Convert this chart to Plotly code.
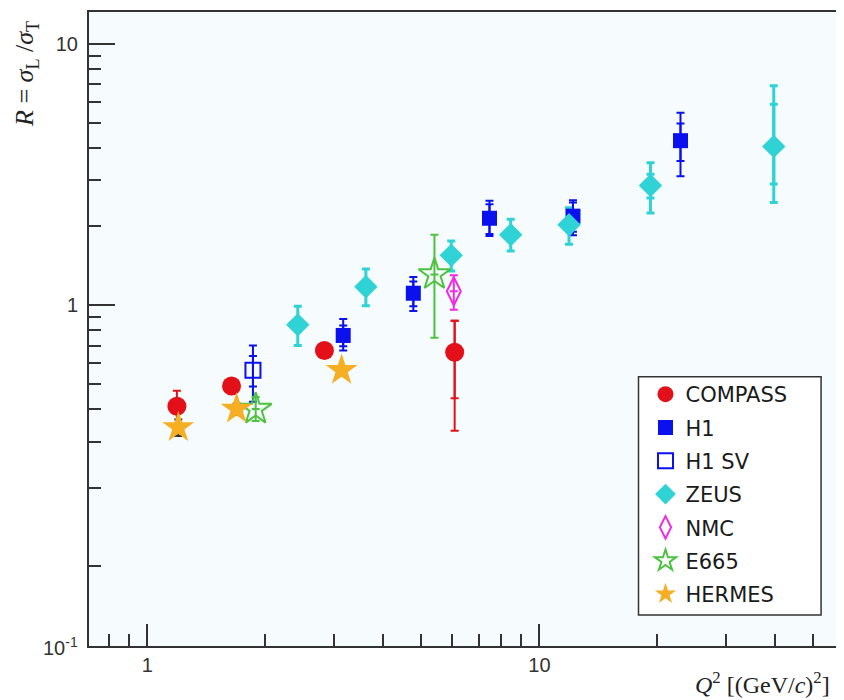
import plotly.graph_objects as go

# ---------------- data ----------------
compass_x = [1.19, 1.64, 2.83, 6.08]
compass_y = [0.41, 0.49, 0.67, 0.66]
compass_tot_p = [0.06, 0.02, 0.02, 0.21]
compass_tot_m = [0.06, 0.02, 0.02, 0.33]
compass_stat_p = [0.0, 0.0, 0.0, 0.21]
compass_stat_m = [0.0, 0.0, 0.0, 0.22]

h1_x = [3.16, 4.77, 7.46, 12.18, 22.9]
h1_y = [0.765, 1.11, 2.15, 2.19, 4.26]
h1_tot_p = [0.12, 0.17, 0.36, 0.33, 1.19]
h1_tot_m = [0.095, 0.16, 0.31, 0.34, 1.15]
h1_stat_p = [0.07, 0.12, 0.28, 0.28, 0.70]
h1_stat_m = [0.07, 0.12, 0.28, 0.28, 0.70]

h1sv_x = [1.86]
h1sv_y = [0.563]
h1sv_tot = [0.137]
h1sv_stat = [0.075]

zeus_x = [2.42, 3.61, 5.96, 8.45, 11.9, 19.2, 39.6]
zeus_y = [0.84, 1.175, 1.55, 1.86, 2.03, 2.87, 4.05]
zeus_tot_p = [0.15, 0.20, 0.21, 0.27, 0.33, 0.64, 2.86]
zeus_tot_m = [0.14, 0.18, 0.20, 0.25, 0.32, 0.62, 1.58]
zeus_stat_p = [0.0, 0.0, 0.0, 0.0, 0.0, 0.30, 1.82]
zeus_stat_m = [0.0, 0.0, 0.0, 0.0, 0.0, 0.30, 1.14]

nmc_x = [6.05]
nmc_y = [1.13]
nmc_tot = [0.17]

e665_x = [1.89, 5.40]
e665_y = [0.40, 1.31]
e665_tot_p = [0.045, 0.55]
e665_tot_m = [0.04, 0.56]

hermes_x = [1.20, 1.69, 3.13]
hermes_y = [0.34, 0.40, 0.563]
hermes_tot = [0.025, 0.02, 0.02]

y_minor = [0.1, 0.2, 0.3, 0.4, 0.5, 0.6, 0.7, 0.8, 0.9, 2, 3, 4, 5, 6, 7, 8, 9]
x_minor = [0.8, 0.9, 2, 3, 4, 5, 6, 7, 8, 9, 20, 30, 40, 50]

RED = "#e3101a"
BLUE = "#0a10ee"
CYAN = "#2fd3d6"
MAG = "#f22ae0"
GREEN = "#4cc23f"
ORANGE = "#f6ae23"

fig = go.Figure()


def err_trace(x, y, plus, minus, color, group, thick=2):
    fig.add_trace(go.Scatter(
        x=x, y=y, mode="markers",
        marker=dict(size=1, color="rgba(0,0,0,0)"),
        error_y=dict(type="data", symmetric=False, array=plus, arrayminus=minus,
                     color=color, thickness=thick, width=4),
        showlegend=False, legendgroup=group, hoverinfo="skip"))


def main_trace(x, y, plus, minus, color, group, name, marker, thick=2):
    fig.add_trace(go.Scatter(
        x=x, y=y, mode="markers", name=name, legendgroup=group,
        marker=marker,
        error_y=dict(type="data", symmetric=False, array=plus, arrayminus=minus,
                     color=color, thickness=thick, width=4)))


# total-error bars first (behind markers)
err_trace(compass_x, compass_y, compass_tot_p, compass_tot_m, RED, "g1")
err_trace(h1_x, h1_y, h1_tot_p, h1_tot_m, BLUE, "g2")
err_trace(h1sv_x, h1sv_y, h1sv_tot, h1sv_tot, BLUE, "g3")
err_trace(zeus_x, zeus_y, zeus_tot_p, zeus_tot_m, CYAN, "g4", thick=3)
err_trace(nmc_x, nmc_y, nmc_tot, nmc_tot, MAG, "g5")
err_trace(e665_x, e665_y, e665_tot_p, e665_tot_m, GREEN, "g6")
err_trace(hermes_x, hermes_y, hermes_tot, hermes_tot, "#333333", "g7")

main_trace(compass_x, compass_y, compass_stat_p, compass_stat_m, RED, "g1", "COMPASS",
           dict(symbol="circle", size=19, color=RED))
main_trace(h1_x, h1_y, h1_stat_p, h1_stat_m, BLUE, "g2", "H1",
           dict(symbol="square", size=15, color=BLUE))
main_trace(h1sv_x, h1sv_y, h1sv_stat, h1sv_stat, BLUE, "g3", "H1 SV",
           dict(symbol="square-open", size=15, color=BLUE, line=dict(width=2)))
main_trace(zeus_x, zeus_y, zeus_stat_p, zeus_stat_m, CYAN, "g4", "ZEUS",
           dict(symbol="diamond", size=18, color=CYAN), thick=3)
main_trace(nmc_x, nmc_y, [0], [0], MAG, "g5", "NMC",
           dict(symbol="diamond-tall-open", size=20, color=MAG, line=dict(width=2)))
main_trace(e665_x, e665_y, [0, 0], [0, 0], GREEN, "g6", "E665",
           dict(symbol="star-open", size=24, color=GREEN, line=dict(width=2)))
main_trace(hermes_x, hermes_y, [0, 0, 0], [0, 0, 0], ORANGE, "g7", "HERMES",
           dict(symbol="star", size=24, color=ORANGE))

axis_font = dict(family="Liberation Sans, Arial, sans-serif", size=20, color="#333333")

fig.update_xaxes(
    type="log", range=[-0.1486, 1.7666],
    tickvals=[1, 10], ticktext=["1", "10"],
    ticks="inside", ticklen=22, tickwidth=2, tickcolor="#333333",
    minor=dict(tickvals=x_minor, ticks="inside", ticklen=12, tickwidth=2, tickcolor="#333333",
               showgrid=False),
    showline=True, linecolor="#333333", linewidth=2, mirror=True,
    showgrid=False, zeroline=False, tickfont=axis_font)

fig.update_yaxes(
    type="log", range=[-1.3053, 1.1221],
    tickvals=[1, 10], ticktext=["1", "10"],
    ticks="inside", ticklen=26, tickwidth=2, tickcolor="#333333",
    minor=dict(tickvals=y_minor, ticks="inside", ticklen=12, tickwidth=2, tickcolor="#333333",
               showgrid=False),
    showline=True, linecolor="#333333", linewidth=2, mirror=True,
    ticklabelstandoff=5,
    showgrid=False, zeroline=False, tickfont=axis_font)

serif = "Liberation Serif, Times New Roman, serif"

fig.update_layout(
    width=836, height=692,
    margin=dict(l=81, r=2, t=2, b=54),
    paper_bgcolor="white",
    plot_bgcolor="#f6fbfd",
    showlegend=True,
    legend=dict(
        x=0.741, y=0.429, xanchor="left", yanchor="top",
        bgcolor="rgba(0,0,0,0)", borderwidth=0,
        font=dict(family="DejaVu Sans, Liberation Sans, sans-serif", size=21, color="#1a1a1a"),
        tracegroupgap=3, itemsizing="trace"),
    shapes=[
        dict(type="rect", xref="paper", yref="paper",
             x0=0.7317, x1=0.9748, y0=0.0487, y1=0.4245,
             fillcolor="white", line=dict(color="#333333", width=1.5), layer="above"),
    ],
    annotations=[
        dict(text="<i>R</i> = <i>σ</i><sub>L</sub> /<i>σ</i><sub>T</sub>",
             xref="paper", yref="paper", x=-0.0837, y=0.9025,
             xanchor="center", yanchor="middle", textangle=-90, showarrow=False,
             font=dict(family=serif, size=26, color="#222222")),
        dict(text="<i>Q</i><sup>2</sup> [(GeV/<i>c</i>)<sup>2</sup>]",
             xref="paper", yref="paper", x=0.99, y=-0.058,
             xanchor="right", yanchor="middle", showarrow=False,
             font=dict(family=serif, size=24, color="#222222")),
        dict(text="10<sup>-1</sup>",
             xref="paper", yref="paper", x=-0.012, y=0.0,
             xanchor="right", yanchor="middle", showarrow=False,
             font=axis_font),
    ],
)

fig.write_html("out.html")
